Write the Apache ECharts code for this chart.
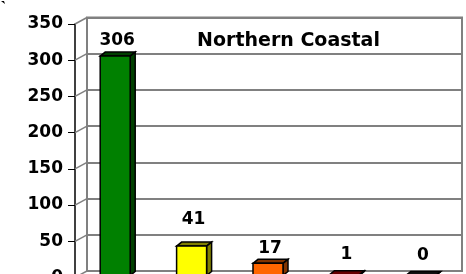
<!DOCTYPE html>
<html>
<head>
<meta charset="utf-8">
<script src="https://cdn.jsdelivr.net/npm/echarts@6/dist/echarts.min.js"></script>
<style>
html, body { margin: 0; padding: 0; background: #fff; }
#chart { width: 466px; height: 274px; }
</style>
</head>
<body>
<div id="chart"></div>
<script>
// data
var categories = ['Green', 'Yellow', 'Orange', 'Red', 'Black'];
var counts = [306, 41, 17, 1, 0];
var yTicks = [0, 50, 100, 150, 200, 250, 300, 350];
var chartTitle = 'Northern Coastal';

// look
var faceColors = ['#008000', '#ffff00', '#ff6600', '#cc0000', '#333333'];
var sideColors = ['#004000', '#808000', '#803300', '#660000', '#111111'];
var labelGap = [15, 27, 15, 20, 20];
var barHalf = 15, depthX = 5, depthY = 4;
var wallX = 12, wallY = 6.5;
var boldFont = 'bold 17px "DejaVu Sans"';

var chart = echarts.init(document.getElementById('chart'));

var option = {
	animation: false,
	grid: [
		// back wall
		{ left: 87, right: 4, top: 17.5, height: 253.5, show: true, borderColor: '#808080', borderWidth: 2, outerBoundsMode: 'none', containLabel: false },
		// front axis
		{ left: 75, top: 24, height: 253.5, width: 10, outerBoundsMode: 'none', containLabel: false },
		// bars
		{ left: 77, width: 382, top: 24.5, height: 251, outerBoundsMode: 'none', containLabel: false }
	],
	xAxis: [
		{ gridIndex: 0, type: 'category', data: categories, show: false },
		{ gridIndex: 1, type: 'value', show: false },
		{ gridIndex: 2, type: 'category', data: categories, show: false }
	],
	yAxis: [
		{
			gridIndex: 0, type: 'value', min: 0, max: 350, interval: 50,
			axisLine: { show: false }, axisTick: { show: false }, axisLabel: { show: false },
			splitLine: { show: true, lineStyle: { color: '#808080', width: 2 } }
		},
		{
			gridIndex: 1, type: 'value', min: 0, max: 350, interval: 50,
			axisLine: { show: true, lineStyle: { color: '#000', width: 1.5 } },
			axisTick: { show: true, inside: false, length: 7, lineStyle: { color: '#000', width: 1 } },
			axisLabel: { margin: 12, color: '#000', fontFamily: 'DejaVu Sans', fontWeight: 'bold', fontSize: 17 },
			splitLine: { show: false }
		},
		{ gridIndex: 2, type: 'value', min: 0, max: 350, show: false, splitLine: { show: false } }
	],
	graphic: [
		{
			type: 'text', x: 288.5, y: 41.5,
			style: { text: chartTitle, font: 'bold 19px "DejaVu Sans"', fill: '#000', textAlign: 'center', textVerticalAlign: 'middle' }
		},
		{ type: 'polygon', shape: { points: [[1, 1], [4, 1], [5, 4]] }, style: { fill: '#000' } }
	],
	series: [
		{
			// slanted ticks joining the front axis to the back wall
			type: 'custom', xAxisIndex: 0, yAxisIndex: 0, silent: true, clip: false,
			data: yTicks.map(function (v) { return [0, v]; }),
			renderItem: function (params, api) {
				var y = api.coord([0, api.value(1)])[1];
				var x = params.coordSys.x;
				return {
					type: 'line',
					shape: { x1: x, y1: y, x2: x - wallX, y2: y + wallY },
					style: { stroke: '#808080', lineWidth: 1.5 }
				};
			}
		},
		{
			// 3d looking columns
			type: 'custom', xAxisIndex: 2, yAxisIndex: 2, clip: false,
			data: counts.map(function (v, i) { return [i, v]; }),
			renderItem: function (params, api) {
				var i = api.value(0), v = api.value(1);
				var top = api.coord([i, v]), base = api.coord([i, 0]);
				var cx = top[0], yt = top[1], yb = base[1];
				var x0 = cx - barHalf, x1 = cx + barHalf;
				return {
					type: 'group',
					children: [
						{
							type: 'polygon',
							shape: { points: [[x0, yt], [x0 + depthX, yt - depthY], [x1 + depthX, yt - depthY], [x1, yt]] },
							style: { fill: sideColors[i], stroke: '#000', lineWidth: 1.5 }
						},
						{
							type: 'polygon',
							shape: { points: [[x1, yt], [x1 + depthX, yt - depthY], [x1 + depthX, yb - depthY], [x1, yb]] },
							style: { fill: sideColors[i], stroke: '#000', lineWidth: 1.5 }
						},
						{
							type: 'rect',
							shape: { x: x0, y: yt, width: x1 - x0, height: yb - yt },
							style: { fill: faceColors[i], stroke: '#000', lineWidth: 1.5 }
						},
						{
							type: 'text',
							x: cx + 2, y: yt - labelGap[i],
							style: { text: String(v), font: boldFont, fill: '#000', textAlign: 'center', textVerticalAlign: 'middle' }
						}
					]
				};
			}
		}
	]
};

chart.setOption(option);
</script>
</body>
</html>
